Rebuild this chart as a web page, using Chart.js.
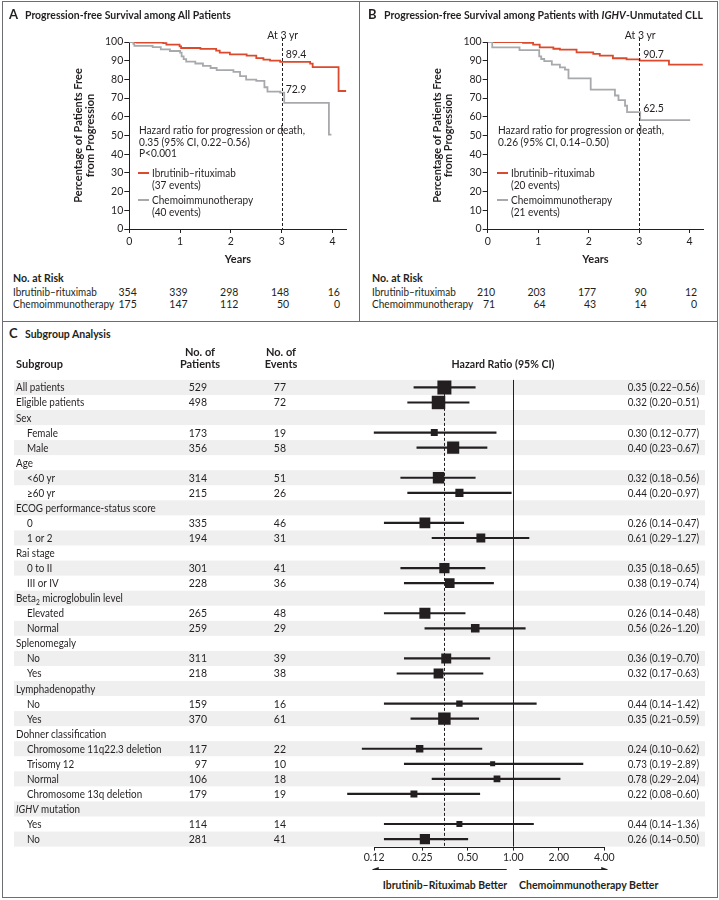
<!DOCTYPE html>
<html>
<head>
  <meta charset="utf-8">
  <title>Progression-free Survival and Subgroup Analysis</title>
  <script src="https://cdn.jsdelivr.net/npm/chart.js@4.4.0/dist/chart.umd.min.js"></script>
  <style>
    body { margin: 0; width: 719px; height: 900px; position: relative; background: #fff;
           font-family: Lato, sans-serif; color: #231f20; overflow: hidden; }
    canvas { position: absolute; }
    .lbl { position: absolute; white-space: nowrap; font-size: 10px; line-height: 1.2; }
    .b { font-weight: bold; }
    .frame { position: absolute; background: #6d6e71; }
    .key { position: absolute; height: 2px; width: 11px; }
    sub { font-size: 7px; line-height: 0; }
  </style>
</head>
<body>
  <canvas id="kmA" width="358" height="270" style="left:0;top:0"></canvas>
  <canvas id="kmB" width="360" height="270" style="left:359px;top:0"></canvas>
  <canvas id="forest" width="719" height="500" style="left:0;top:370px"></canvas>

  <script>
    const INK = '#231f20';
    const RED = '#dc4a2d';
    const GRAY = '#a7a9ac';
    const STRIPE = '#efeff0';

    // panel A - all patients (step points)
    const yearsIbrA = [0, 0.15, 0.67, 0.73, 0.99, 1.02, 1.4, 1.71, 1.78, 1.98, 2.31, 2.5, 2.64, 2.77, 2.97, 3.56, 3.61, 4.12, 4.27];
    const pfsIbrA   = [100, 99.7, 99.4, 98.6, 97.7, 96.8, 96.3, 95.4, 94.3, 93.4, 92.7, 91.4, 90.6, 90.0, 89.4, 88.4, 86.6, 73.8, 73.8];
    const yearsChemoA = [0, 0.08, 0.1, 0.46, 0.62, 0.8, 1.0, 1.03, 1.07, 1.12, 1.3, 1.45, 1.6, 1.72, 2.05, 2.18, 2.3, 2.5, 2.66, 2.72, 2.97, 3.05, 3.93, 3.98];
    const pfsChemoA   = [100, 99, 97.9, 97.3, 96.1, 95.2, 94.3, 92.3, 90.8, 89.5, 88.5, 87.2, 86.1, 85.0, 84.0, 81.8, 79.9, 79.2, 75.8, 73.5, 72.9, 67.4, 50.5, 50.5];
    const riskIbrA   = [354, 339, 298, 148, 16];
    const riskChemoA = [175, 147, 112, 50, 0];

    // panel B - IGHV-unmutated CLL
    const yearsIbrB = [0, 0.7, 0.9, 1.03, 1.3, 1.43, 1.76, 2.09, 2.22, 2.48, 2.75, 3.01, 3.59, 4.26];
    const pfsIbrB   = [100, 99.5, 98.6, 97.1, 96.4, 95.9, 94.5, 93.6, 92.7, 91.3, 90.7, 90.0, 87.9, 87.9];
    const yearsChemoB = [0, 0.09, 0.63, 1.02, 1.06, 1.12, 1.27, 1.43, 1.53, 1.6, 2.04, 2.52, 2.59, 2.72, 2.76, 3.02, 4.01];
    const pfsChemoB   = [100, 97.1, 95.7, 92.3, 90.9, 89.8, 87.9, 86.4, 85.2, 80.5, 74.5, 71.4, 68.9, 65.9, 62.5, 58.2, 58.2];
    const riskIbrB   = [210, 203, 177, 90, 12];
    const riskChemoB = [71, 64, 43, 14, 0];

    const yearTicks = [0, 1, 2, 3, 4];

    // panel C - subgroups
    const subgroups = ['All patients', 'Eligible patients', 'Sex', 'Female', 'Male', 'Age', '&lt;60 yr', '≥60 yr',
      'ECOG performance-status score', '0', '1 or 2', 'Rai stage', '0 to II', 'III or IV',
      'Beta<sub>2</sub> microglobulin level', 'Elevated', 'Normal', 'Splenomegaly', 'No', 'Yes',
      'Lymphadenopathy', 'No', 'Yes', 'Dohner classification', 'Chromosome 11q22.3 deletion', 'Trisomy 12',
      'Normal', 'Chromosome 13q deletion', '<i>IGHV</i> mutation', 'Yes', 'No'];
    const indented = [0, 0, 0, 1, 1, 0, 1, 1, 0, 1, 1, 0, 1, 1, 0, 1, 1, 0, 1, 1, 0, 1, 1, 0, 1, 1, 1, 1, 0, 1, 1];
    const patients = [529, 498, null, 173, 356, null, 314, 215, null, 335, 194, null, 301, 228, null, 265, 259, null, 311, 218, null, 159, 370, null, 117, 97, 106, 179, null, 114, 281];
    const events   = [77, 72, null, 19, 58, null, 51, 26, null, 46, 31, null, 41, 36, null, 48, 29, null, 39, 38, null, 16, 61, null, 22, 10, 18, 19, null, 14, 41];
    const hazard   = [0.35, 0.32, null, 0.30, 0.40, null, 0.32, 0.44, null, 0.26, 0.61, null, 0.35, 0.38, null, 0.26, 0.56, null, 0.36, 0.32, null, 0.44, 0.35, null, 0.24, 0.73, 0.78, 0.22, null, 0.44, 0.26];
    const ciLow    = [0.22, 0.20, null, 0.12, 0.23, null, 0.18, 0.20, null, 0.14, 0.29, null, 0.18, 0.19, null, 0.14, 0.26, null, 0.19, 0.17, null, 0.14, 0.21, null, 0.10, 0.19, 0.29, 0.08, null, 0.14, 0.14];
    const ciHigh   = [0.56, 0.51, null, 0.77, 0.67, null, 0.56, 0.97, null, 0.47, 1.27, null, 0.65, 0.74, null, 0.48, 1.20, null, 0.70, 0.63, null, 1.42, 0.59, null, 0.62, 2.89, 2.04, 0.60, null, 1.36, 0.50];
    const hrTicks = [0.12, 0.25, 0.5, 1, 2, 4];
    const overallHR = 0.35;

    Chart.defaults.font.family = 'Lato, sans-serif';
    Chart.defaults.font.size = 10.5;
    Chart.defaults.color = INK;

    // the source face is narrower than Lato, so long strings are squeezed to the widths seen in the figure
    function widthOf(html, size, bold) {
      const d = document.createElement('div');
      d.className = 'lbl' + (bold ? ' b' : '');
      d.style.fontSize = size + 'px';
      d.innerHTML = html;
      document.body.appendChild(d);
      const w = d.offsetWidth;
      d.remove();
      return w;
    }

    function put(html, x, y, o = {}) {
      const d = document.createElement('div');
      d.className = 'lbl' + (o.bold ? ' b' : '');
      d.innerHTML = html;
      d.style.left = x + 'px';
      d.style.top = y + 'px';
      if (o.size) d.style.fontSize = o.size + 'px';
      document.body.appendChild(d);
      const sx = o.fit ? o.fit / d.offsetWidth : (o.sx || 1);
      const align = o.align || 'left';
      const tx = align === 'right' ? '-100%' : align === 'center' ? '-50%' : '0';
      d.style.transformOrigin = align + ' center';
      d.style.transform = `translate(${tx}, -50%) scaleX(${sx})`;
    }

    function line(x, y, w, h) {
      const d = document.createElement('div');
      d.className = 'frame';
      Object.assign(d.style, { left: x + 'px', top: y + 'px', width: w + 'px', height: h + 'px' });
      document.body.appendChild(d);
    }

    const threeYear = {
      id: 'threeYear',
      afterDatasetsDraw(chart) {
        const { ctx, chartArea, scales } = chart;
        const x = Math.round(scales.x.getPixelForValue(3)) + 0.5;
        ctx.save();
        ctx.strokeStyle = INK;
        ctx.lineWidth = 1;
        ctx.setLineDash([3, 2]);
        ctx.beginPath();
        ctx.moveTo(x, chartArea.top - 4);
        ctx.lineTo(x, chartArea.bottom);
        ctx.stroke();
        ctx.restore();
      }
    };

    function km(id, years1, pfs1, years2, pfs2, xMax, padLeft, padRight, yWidth) {
      const pts = (t, s) => t.map((v, i) => ({ x: v, y: s[i] }));
      return new Chart(document.getElementById(id), {
        type: 'line',
        data: {
          datasets: [
            { data: pts(years2, pfs2), borderColor: GRAY, borderWidth: 1.8, stepped: 'before', pointRadius: 0 },
            { data: pts(years1, pfs1), borderColor: RED, borderWidth: 1.8, stepped: 'before', pointRadius: 0 }
          ]
        },
        options: {
          responsive: false,
          animation: false,
          devicePixelRatio: 1,
          layout: { padding: { left: padLeft, right: padRight, top: 42, bottom: 0 } },
          plugins: { legend: { display: false }, tooltip: { enabled: false } },
          scales: {
            x: {
              type: 'linear', min: 0, max: xMax,
              afterBuildTicks: s => { s.ticks = yearTicks.map(v => ({ value: v })); },
              ticks: { padding: 2, maxRotation: 0 },
              grid: { drawOnChartArea: false, tickLength: 4, color: INK },
              border: { color: INK },
              title: { display: true, text: 'Years', font: { size: 11, weight: 'bold' }, padding: { top: 4, bottom: 4 } },
              afterFit: s => { s.height = 41; }
            },
            y: {
              min: 0, max: 100,
              ticks: { stepSize: 10, padding: 1 },
              grid: { drawOnChartArea: false, tickLength: 5, color: INK },
              border: { color: INK },
              title: { display: true, text: ['Percentage of Patients Free', 'from Progression'],
                       font: { size: 11, weight: 'bold', lineHeight: 1.05 }, padding: { top: 4, bottom: 0 } },
              afterFit: s => { s.width = yWidth; }
            }
          }
        },
        plugins: [threeYear]
      });
    }

    const chartA = km('kmA', yearsIbrA, pfsIbrA, yearsChemoA, pfsChemoA, 4.28, 69, 11.3, 60.3);
    const chartB = km('kmB', yearsIbrB, pfsIbrB, yearsChemoB, pfsChemoB, 4.27, 68.5, 15.7, 60.2);

    const hrSx = 166 / widthOf('Hazard ratio for progression or death,', 10.5, false);

    function kmText(chart, left, letter, title, titleW, hrLines, ibrEvents, chemoEvents, lab1, lab2, risk1, risk2) {
      put(letter, left + 9, 15, { bold: true, size: 13 });
      put(title, left + 25, 15, { bold: true, size: 11, fit: titleW });
      const x3 = left + chart.scales.x.getPixelForValue(3);
      put('At 3 yr', x3 + 1, 35, { align: 'center', size: 10.5 });
      put(lab1[0], x3 + 4, lab1[1], { size: 10.5 });
      put(lab2[0], x3 + 4, lab2[1], { size: 10.5 });
      const x0 = left + chart.chartArea.left;
      hrLines.forEach((t, i) => put(t, x0 + 10, 130 + i * 11.7, { size: 10.5, sx: hrSx }));
      const k1 = document.createElement('div');
      k1.className = 'key';
      Object.assign(k1.style, { left: (x0 + 9) + 'px', top: '172px', background: RED });
      document.body.appendChild(k1);
      const k2 = k1.cloneNode();
      k2.style.top = '198.7px';
      k2.style.background = GRAY;
      document.body.appendChild(k2);
      put('Ibrutinib–rituximab', x0 + 23, 173.3, { size: 10.5, fit: 84 });
      put(`(${ibrEvents} events)`, x0 + 23, 185.3, { size: 10.5, sx: hrSx });
      put('Chemoimmunotherapy', x0 + 23, 199.7, { size: 10.5, fit: 101.5 });
      put(`(${chemoEvents} events)`, x0 + 23, 211.7, { size: 10.5, sx: hrSx });
      put('No. at Risk', left + 13, 278.3, { bold: true, size: 11, fit: 51 });
      put('Ibrutinib–rituximab', left + 13, 292, { size: 10.5, fit: 84 });
      put('Chemoimmunotherapy', left + 13, 304, { size: 10.5, fit: 101.5 });
      yearTicks.forEach((t, i) => {
        const xr = left + chart.scales.x.getPixelForValue(t) + 7.5;
        put(String(risk1[i]), xr, 292, { align: 'right', size: 10.5 });
        put(String(risk2[i]), xr, 304, { align: 'right', size: 10.5 });
      });
    }

    kmText(chartA, 0, 'A', 'Progression-free Survival among All Patients', 206,
      ['Hazard ratio for progression or death,', '0.35 (95% CI, 0.22–0.56)', 'P&lt;0.001'],
      37, 40, ['89.4', 54], ['72.9', 89.3], riskIbrA, riskChemoA);
    kmText(chartB, 359, 'B', 'Progression-free Survival among Patients with <i>IGHV</i>-Unmutated CLL', 319,
      ['Hazard ratio for progression or death,', '0.26 (95% CI, 0.14–0.50)'],
      20, 21, ['90.7', 54], ['62.5', 108.3], riskIbrB, riskChemoB);

    // forest plot
    const rows = subgroups.map((_, i) => i).filter(i => hazard[i] !== null);
    const forestTop = 370;

    const forestDecor = {
      id: 'forestDecor',
      beforeDatasetsDraw(chart) {
        const { ctx, chartArea, scales: { x, y } } = chart;
        ctx.save();
        ctx.fillStyle = STRIPE;
        subgroups.forEach((_, i) => {
          if (i % 2) return;
          const t = y.getPixelForValue(i - 0.5), b = y.getPixelForValue(i + 0.5);
          ctx.fillRect(14, t, 691, b - t);
        });
        ctx.strokeStyle = INK;
        ctx.fillStyle = INK;
        ctx.lineWidth = 1;
        const x1 = Math.round(x.getPixelForValue(1)) + 0.5;
        ctx.beginPath();
        ctx.moveTo(x1, chartArea.top);
        ctx.lineTo(x1, chartArea.bottom);
        ctx.stroke();
        const xo = Math.round(x.getPixelForValue(overallHR)) + 0.5;
        ctx.setLineDash([3, 2]);
        ctx.beginPath();
        ctx.moveTo(xo, chartArea.top + 8);
        ctx.lineTo(xo, chartArea.bottom);
        ctx.stroke();
        ctx.setLineDash([]);
        const yb = Math.round(chartArea.bottom) + 0.5;
        ctx.beginPath();
        ctx.moveTo(x.getPixelForValue(hrTicks[0]), yb);
        ctx.lineTo(x.getPixelForValue(hrTicks[hrTicks.length - 1]), yb);
        ctx.stroke();
        // direction arrows under the axis
        const ya = 499.5;
        const arrow = (from, to) => {
          const a = x.getPixelForValue(from), b = x.getPixelForValue(to);
          const dir = Math.sign(b - a);
          ctx.beginPath();
          ctx.moveTo(a, ya);
          ctx.lineTo(b - dir * 5, ya);
          ctx.stroke();
          ctx.beginPath();
          ctx.moveTo(b, ya);
          ctx.lineTo(b - dir * 7, ya - 2.5);
          ctx.lineTo(b - dir * 7, ya + 2.5);
          ctx.closePath();
          ctx.fill();
        };
        arrow(0.905, 0.1157);
        arrow(1.096, 4.25);
        ctx.restore();
      }
    };

    const forest = new Chart(document.getElementById('forest'), {
      type: 'scatter',
      data: {
        datasets: [
          {
            type: 'scatter',
            data: rows.map(i => ({ x: hazard[i], y: i })),
            pointStyle: 'rect',
            pointRadius: rows.map(i => 1.128 * Math.sqrt(events[i])),
            pointBorderWidth: 0,
            backgroundColor: INK,
            order: 0
          },
          {
            type: 'bar',
            indexAxis: 'y',
            data: rows.map(i => ({ x: [ciLow[i], ciHigh[i]], y: i })),
            backgroundColor: INK,
            borderWidth: 0,
            barThickness: 1.5,
            order: 1
          }
        ]
      },
      options: {
        responsive: false,
        animation: false,
        devicePixelRatio: 1,
        events: [],
        layout: { padding: { left: 343.3, right: 107, top: 6.4, bottom: 3.4 } },
        plugins: { legend: { display: false }, tooltip: { enabled: false } },
        scales: {
          x: {
            type: 'logarithmic', min: 0.075, max: 4.5, bounds: 'data',
            afterBuildTicks: s => { s.ticks = hrTicks.map(v => ({ value: v })); },
            ticks: { callback: v => v.toFixed(2), autoSkip: false, maxRotation: 0, padding: 1 },
            grid: { drawOnChartArea: false, tickLength: 4, color: INK },
            border: { display: false },
            afterFit: s => { s.height = 20; }
          },
          y: { type: 'linear', reverse: true, offset: false, grid: { offset: false },
               min: -0.5, max: subgroups.length - 0.5, display: false }
        }
      },
      plugins: [forestDecor]
    });

    put('C', 9, 334.3, { bold: true, size: 13 });
    put('Subgroup Analysis', 25, 334.3, { bold: true, size: 11, fit: 86 });
    put('Subgroup', 16, 364, { bold: true, size: 11 });
    put('No. of', 200, 351.7, { bold: true, align: 'center', size: 11 });
    put('Patients', 200, 364, { bold: true, align: 'center', size: 11 });
    put('No. of', 281, 351.7, { bold: true, align: 'center', size: 11 });
    put('Events', 281, 364, { bold: true, align: 'center', size: 11 });
    put('Hazard Ratio (95% CI)', 503.3, 364, { bold: true, align: 'center', size: 11.5, fit: 103 });

    const rowSx = 135 / widthOf('Chromosome 11q22.3 deletion', 10.5, false);
    const ciSx = 71.7 / widthOf('0.35 (0.22–0.56)', 10.5, false);
    subgroups.forEach((name, i) => {
      const y = forestTop + forest.scales.y.getPixelForValue(i);
      put(name, indented[i] ? 27 : 16, y, { size: 10.5, sx: rowSx });
      if (patients[i] !== null) put(String(patients[i]), 207, y, { align: 'right', size: 10.5 });
      if (events[i] !== null) put(String(events[i]), 286, y, { align: 'right', size: 10.5 });
      if (hazard[i] !== null) {
        put(`${hazard[i].toFixed(2)} (${ciLow[i].toFixed(2)}–${ciHigh[i].toFixed(2)})`, 699, y, { align: 'right', size: 10.5, sx: ciSx });
      }
    });
    put('Ibrutinib–Rituximab Better', 444.7, 885, { bold: true, align: 'center', size: 11, fit: 124 });
    put('Chemoimmunotherapy Better', 519.3, 885, { bold: true, size: 11, fit: 139 });

    // panel frames
    line(2, 1, 716, 1);
    line(2, 1, 1, 897);
    line(717, 1, 1, 897);
    line(2, 897, 716, 1);
    line(359, 1, 1, 320);
    line(2, 321, 716, 1);
  </script>
</body>
</html>
